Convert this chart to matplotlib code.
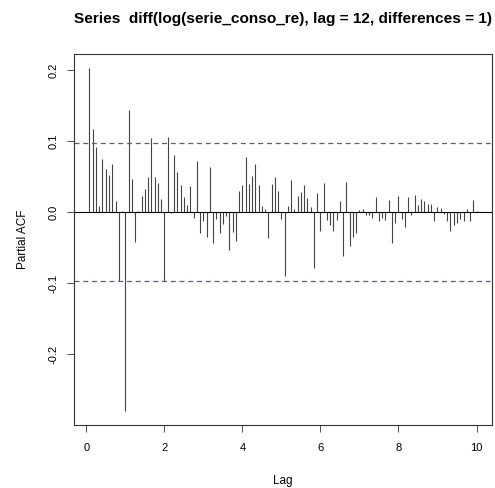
import numpy as np
import matplotlib
matplotlib.use('Agg')
import matplotlib.pyplot as plt

plt.rcParams['font.family'] = ['Liberation Sans', 'DejaVu Sans']

# partial autocorrelations, lags 1..120 (monthly series, frequency 12)
pacf = [
    0.203, 0.117, 0.092, 0.008, 0.075, 0.060, 0.052, 0.068, 0.015, -0.097,
    0.002, -0.280, 0.143, 0.046, -0.042, 0.001, 0.023, 0.033, 0.049, 0.104,
    0.050, 0.041, 0.018, -0.097, 0.106, -0.001, 0.080, 0.057, 0.038, 0.021,
    0.010, 0.037, -0.008, 0.072, -0.029, -0.013, -0.035, 0.064, -0.044, -0.009,
    -0.030, -0.017, -0.005, -0.053, -0.028, -0.040, 0.029, 0.038, 0.077, 0.040,
    0.051, 0.067, 0.038, 0.008, 0.004, -0.036, 0.040, 0.050, 0.030, -0.010,
    -0.090, 0.009, 0.045, 0.004, 0.023, 0.028, 0.038, 0.020, 0.007, -0.079,
    0.027, -0.027, 0.041, -0.011, -0.018, -0.026, -0.011, 0.015, -0.062, 0.043,
    -0.048, -0.035, -0.029, 0.003, 0.004, -0.004, -0.004, -0.008, 0.021, -0.012,
    -0.008, -0.011, 0.017, -0.043, -0.015, 0.023, -0.010, -0.021, 0.021, -0.004,
    0.024, 0.010, 0.019, 0.015, 0.011, 0.011, -0.013, 0.007, 0.006, -0.003,
    -0.013, -0.026, -0.018, -0.016, -0.009, -0.013, 0.004, -0.013, 0.017, 0.002,
]
frequency = 12
n_obs = 411
lags = np.arange(1, len(pacf) + 1) / frequency
clim = 1.96 / np.sqrt(n_obs)

fig = plt.figure(figsize=(4.95, 4.88), dpi=100)
ax = fig.add_axes([74 / 495, 1 - 425 / 488, (492 - 74) / 495, (425 - 54) / 488])

ax.vlines(lags, 0, pacf, color='#444444', lw=0.8)
ax.axhline(0, color='black', lw=0.8)
for c in (clim, -clim):
    l = ax.axhline(c, color='#5050e8', lw=0.9)
    l.set_dashes((4, 3))

xr = lags.max() - lags.min()
ax.set_xlim(lags.min() - 0.04 * xr, lags.max() + 0.04 * xr)
lo = min(min(pacf), -clim)
hi = max(max(pacf), clim)
ax.set_ylim(lo - 0.04 * (hi - lo), hi + 0.04 * (hi - lo))

ax.set_xticks([0, 2, 4, 6, 8, 10])
ax.set_yticks([-0.2, -0.1, 0.0, 0.1, 0.2])
ax.set_yticklabels(['-0.2', '-0.1', '0.0', '0.1', '0.2'], rotation=90, va='center')
ax.tick_params(labelsize=8, length=5, width=0.6, color='#333333', pad=8)
ax.tick_params(axis='y', pad=6)
for s in ax.spines.values():
    s.set_linewidth(0.8)
    s.set_color('#333333')

ax.set_xlabel('Lag', fontsize=8.5, labelpad=16)
ax.set_ylabel('Partial ACF', fontsize=8.5, labelpad=14)
ax.set_title('Series  diff(log(serie_conso_re), lag = 12, differences = 1)',
             fontsize=11.1, fontweight='bold', pad=22)

fig.savefig('out.png', dpi=100)
